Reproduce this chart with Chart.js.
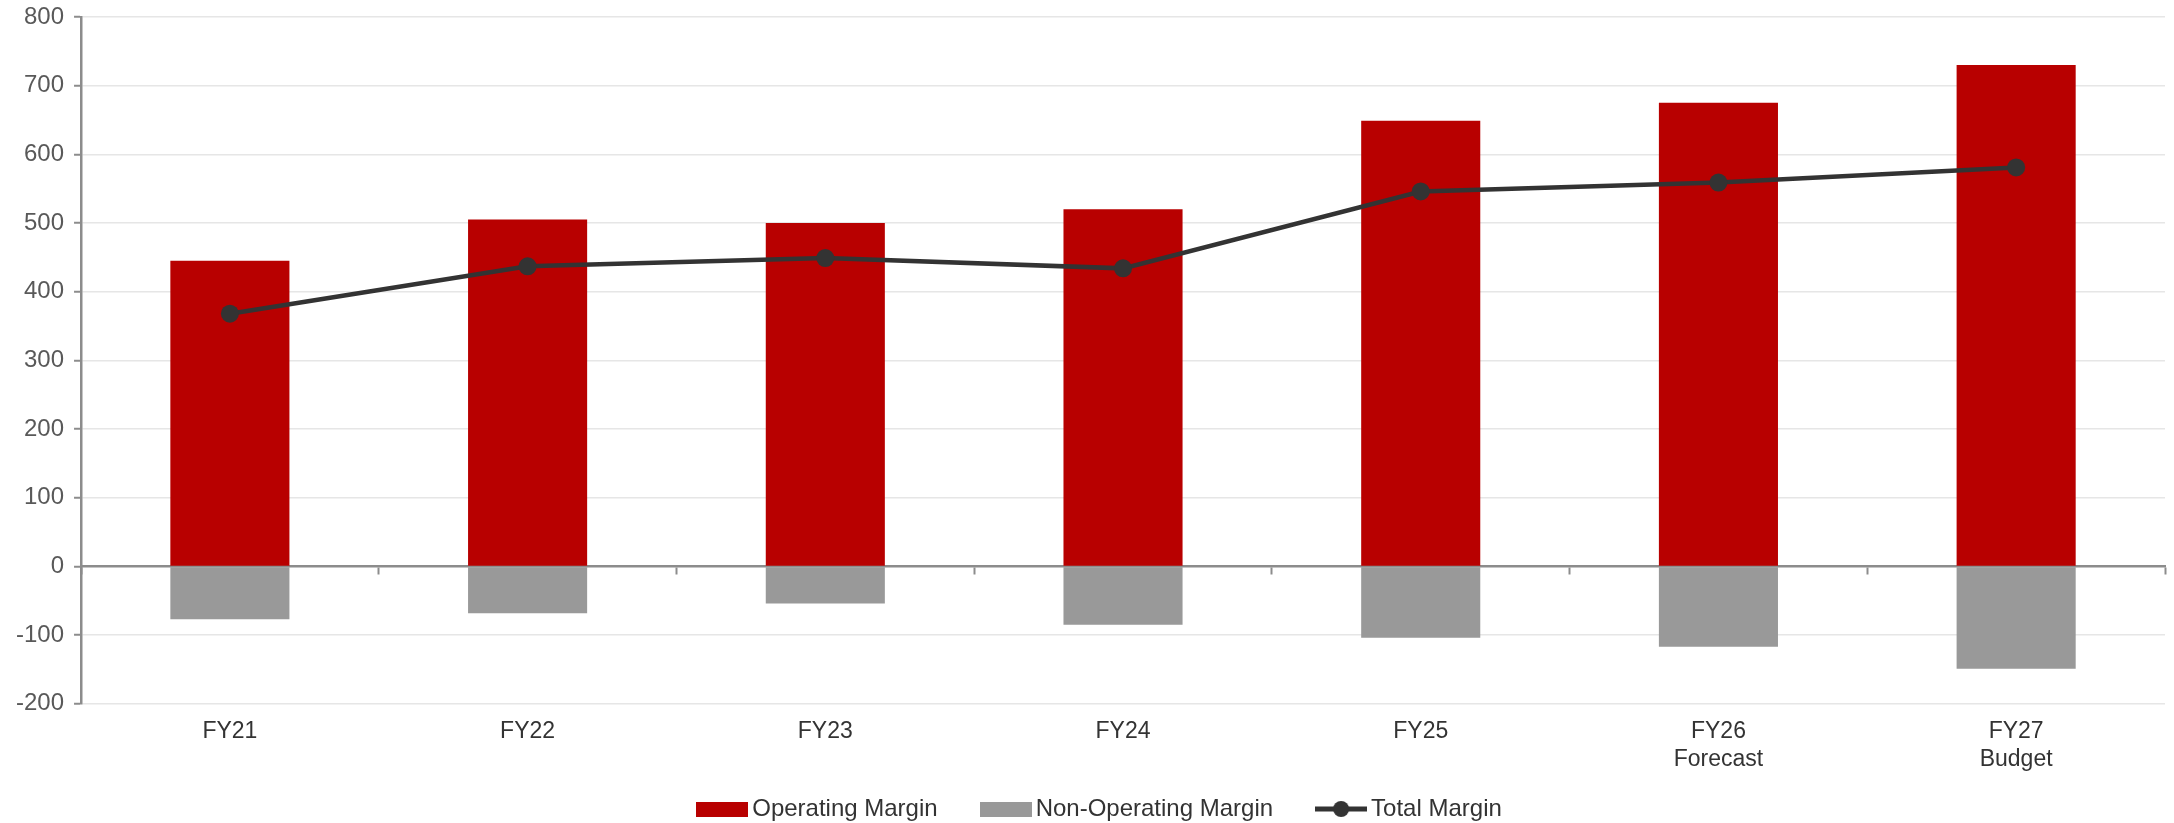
<!DOCTYPE html>
<html lang="en">
<head>
<meta charset="UTF-8">
<title>Margin</title>
<script src="https://cdn.jsdelivr.net/npm/chart.js"></script>
<style>
  html, body { margin: 0; padding: 0; background: #fff; }
  .chart-container { position: relative; width: 2174px; height: 823px; }
</style>
</head>
<body>
<div class="chart-container">
  <canvas id="marginChart"></canvas>
</div>
<script>
// chart data
const categories = [['FY21'], ['FY22'], ['FY23'], ['FY24'], ['FY25'], ['FY26', 'Forecast'], ['FY27', 'Budget']];
const operatingMargin = [445, 505, 500, 520, 649, 675, 730];
const nonOperatingMargin = [-77, -68, -54, -85, -104, -117, -149];
const totalMargin = [368, 437, 449, 434, 546, 559, 581];
const yTicks = { min: -200, max: 800, step: 100 };

const RED = '#b80000';
const GREY = '#999999';
const DARK = '#333333';
const AXIS = '#8c8c8c';

// legend swatches drawn as small canvases
function swatch(kind, color) {
  const c = document.createElement('canvas');
  c.width = 52; c.height = 18;
  const g = c.getContext('2d');
  g.fillStyle = color;
  g.strokeStyle = color;
  if (kind === 'rect') {
    g.fillRect(0, 2, 52, 15);
  } else {
    g.lineWidth = 5;
    g.beginPath(); g.moveTo(0, 9); g.lineTo(52, 9); g.stroke();
    g.beginPath(); g.arc(26, 9, 8, 0, Math.PI * 2); g.fill();
  }
  return c;
}
const swatches = [swatch('rect', RED), swatch('rect', GREY), swatch('line', DARK)];
const legendOrder = { 1: 0, 2: 1, 0: 2 };
const gap = '\u00a0'.repeat(6);

Chart.defaults.font.family = '"Liberation Sans", Arial, sans-serif';
Chart.defaults.font.size = 24;

const ctx = document.getElementById('marginChart').getContext('2d');
new Chart(ctx, {
  data: {
    labels: categories,
    datasets: [
      {
        type: 'line',
        label: 'Total Margin',
        data: totalMargin,
        borderColor: DARK,
        backgroundColor: DARK,
        borderWidth: 4.5,
        pointRadius: 9,
        pointHoverRadius: 9,
        pointBackgroundColor: DARK,
        pointBorderWidth: 0,
        tension: 0,
        order: 0
      },
      {
        type: 'bar',
        label: 'Operating Margin',
        data: operatingMargin,
        backgroundColor: RED,
        barPercentage: 0.4,
        categoryPercentage: 1,
        order: 1
      },
      {
        type: 'bar',
        label: 'Non-Operating Margin',
        data: nonOperatingMargin,
        backgroundColor: GREY,
        barPercentage: 0.4,
        categoryPercentage: 1,
        order: 2
      }
    ]
  },
  options: {
    responsive: true,
    maintainAspectRatio: false,
    animation: false,
    layout: { padding: { top: 0, right: 2, left: 6, bottom: -8 } },
    scales: {
      x: {
        stacked: true,
        grid: { display: false, drawTicks: false },
        border: { display: false },
        ticks: { color: '#333333', padding: 14, autoSkip: false, maxRotation: 0, font: { size: 23 } }
      },
      // zero line with the small category tick marks
      x0: {
        type: 'category',
        axis: 'x',
        position: { y: 0 },
        offset: true,
        grid: { offset: true, drawOnChartArea: false, drawTicks: true, tickLength: 7, tickColor: AXIS, tickWidth: 2 },
        border: { color: AXIS, width: 2.5 },
        ticks: { display: false, autoSkip: false }
      },
      y: {
        stacked: true,
        min: yTicks.min,
        max: yTicks.max,
        afterFit: (scale) => { scale.paddingTop = 17; },
        ticks: { stepSize: yTicks.step, color: '#595959', padding: 10, font: { size: 24 } },
        grid: {
          color: (c) => c.tick && c.tick.value === 0 ? 'rgba(0,0,0,0)' : '#e6e6e6',
          lineWidth: 1.5,
          tickColor: AXIS,
          tickLength: 7,
          tickWidth: 2
        },
        border: { color: AXIS, width: 2.5 }
      }
    },
    plugins: {
      tooltip: { enabled: false },
      legend: {
        position: 'bottom',
        fullSize: false,
        labels: {
          color: '#333333',
          usePointStyle: true,
          pointStyleWidth: 36,
          padding: 10,
          font: { size: 24 },
          sort: (a, b) => legendOrder[a.datasetIndex] - legendOrder[b.datasetIndex],
          generateLabels: (chart) => {
            const items = Chart.defaults.plugins.legend.labels.generateLabels(chart);
            items.forEach((it) => {
              it.pointStyle = swatches[legendOrder[it.datasetIndex]];
              it.text = it.text + gap;
            });
            return items;
          }
        }
      }
    }
  }
});
</script>
</body>
</html>
